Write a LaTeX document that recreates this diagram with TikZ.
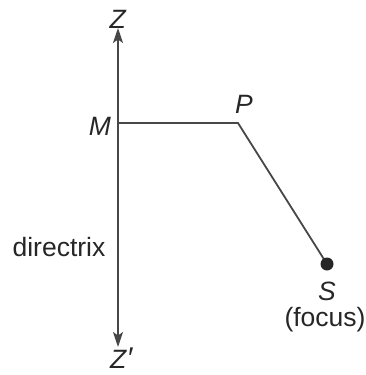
\documentclass[tikz,border=0pt]{standalone}
\usepackage{fontspec}
\setmainfont{Liberation Sans}
\usetikzlibrary{arrows.meta}
\begin{document}
\begin{tikzpicture}[x=1pt,y=-1pt,
  ln/.style={draw=black!72, line width=1.8pt},
  lab/.style={inner sep=0pt, anchor=center, font=\fontsize{26.5}{30}\selectfont, text=black!85},
  tip/.style={-{Stealth[length=15pt,width=10pt,inset=3.5pt]}}]
\useasboundingbox (0,0) rectangle (366,375);
\coordinate (top) at (118,28);
\coordinate (bot) at (118,347);
\coordinate (M) at (118,123);
\coordinate (P) at (238,123);
\coordinate (S) at (327,264);
\draw[ln,tip] (M) -- (top);
\draw[ln,tip] (M) -- (bot);
\draw[ln] (M) -- (P) -- (S);
\fill[black!85] (S) circle (6.5);
\node[lab] (lZ) at (118,19) {\textit{Z}};
\node[lab] (lZp) at (122,358) {\textit{Z}\kern1pt{\fontsize{30}{30}\selectfont ′}};
\node[lab] (lM) at (100,126) {\textit{M}};
\node[lab] (lP) at (244,104) {\textit{P}};
\node[lab] (lS) at (327,291) {\textit{S}};
\node[lab] (lf) at (325,320) {(focus)};
\node[lab] (ld) at (59,247) {directrix};
\end{tikzpicture}
\end{document}
